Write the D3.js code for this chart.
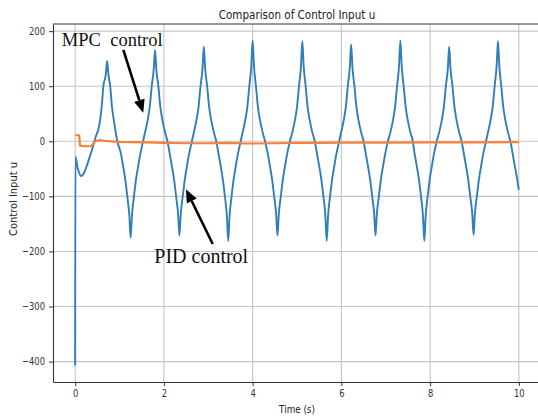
<!DOCTYPE html>
<html><head><meta charset="utf-8">
<script src="https://cdn.jsdelivr.net/npm/d3@7"></script>
<style>html,body{margin:0;padding:0;background:#fff;}svg{display:block;}</style>
</head><body>
<svg id="chart" width="538" height="419"></svg>
<script>
// ---- data ----
const titleText = "Comparison of Control Input u";
const xLabel = "Time (s)";
const yLabel = "Control Input u";
const xTicks = [0, 2, 4, 6, 8, 10];
const yTicks = [-400, -300, -200, -100, 0, 100, 200];
const xDomain = [-0.5, 10.5];
const yDomain = [-437, 213];

// MPC control input (blue), [time, u]
const mpcSeries = [
 [0,-407],[0.005,-28],[0.06,-50],[0.135,-63],[0.2,-57],[0.26,-45],[0.32,-30],[0.37,-18],[0.42,-4],[0.47,10],[0.52,21],[0.565,40],[0.60,65],[0.635,100],[0.69,121],[0.72,146],
 [0.75,121],[0.79,100],[0.83,62],[0.87,39],[0.91,18],[0.95,0],[1.03,-22],[1.08,-45],[1.13,-70],[1.175,-100],[1.22,-134],[1.25,-175],
 [1.28,-134],[1.325,-100],[1.37,-70],[1.42,-45],[1.47,-22],[1.53,0],[1.58,18],[1.635,39],[1.68,62],[1.725,100],[1.77,130],[1.80,166],
 [1.83,130],[1.875,100],[1.92,62],[1.965,39],[2.02,18],[2.08,0],[2.13,-22],[2.18,-45],[2.23,-70],[2.275,-100],[2.32,-132],[2.35,-171],
 [2.38,-132],[2.425,-100],[2.47,-70],[2.52,-45],[2.57,-22],[2.63,0],[2.68,18],[2.735,39],[2.78,62],[2.825,100],[2.87,132],[2.90,172],
 [2.93,132],[2.975,100],[3.02,62],[3.065,39],[3.12,18],[3.18,0],[3.23,-22],[3.28,-45],[3.33,-70],[3.375,-100],[3.42,-136],[3.45,-181],
 [3.48,-136],[3.525,-100],[3.57,-70],[3.62,-45],[3.67,-22],[3.73,0],[3.78,18],[3.835,39],[3.88,62],[3.925,100],[3.97,137],[4.00,183],
 [4.03,137],[4.075,100],[4.12,62],[4.165,39],[4.22,18],[4.28,0],[4.34,-22],[4.39,-45],[4.44,-70],[4.485,-100],[4.53,-132],[4.56,-171],
 [4.59,-132],[4.635,-100],[4.68,-70],[4.73,-45],[4.78,-22],[4.84,0],[4.90,18],[4.955,39],[5.00,62],[5.045,100],[5.09,137],[5.12,182],
 [5.15,137],[5.195,100],[5.24,62],[5.285,39],[5.34,18],[5.40,0],[5.45,-22],[5.50,-45],[5.55,-70],[5.595,-100],[5.64,-136],[5.67,-181],
 [5.70,-136],[5.745,-100],[5.79,-70],[5.84,-45],[5.89,-22],[5.95,0],[6.00,18],[6.055,39],[6.10,62],[6.145,100],[6.19,134],[6.22,176],
 [6.25,134],[6.295,100],[6.34,62],[6.385,39],[6.44,18],[6.50,0],[6.55,-22],[6.60,-45],[6.65,-70],[6.695,-100],[6.74,-132],[6.77,-171],
 [6.80,-132],[6.845,-100],[6.89,-70],[6.94,-45],[6.99,-22],[7.05,0],[7.11,18],[7.165,39],[7.21,62],[7.255,100],[7.30,137],[7.33,183],
 [7.36,137],[7.405,100],[7.45,62],[7.495,39],[7.55,18],[7.61,0],[7.65,-22],[7.70,-45],[7.75,-70],[7.795,-100],[7.84,-136],[7.87,-181],
 [7.90,-136],[7.945,-100],[7.99,-70],[8.04,-45],[8.09,-22],[8.15,0],[8.21,18],[8.265,39],[8.31,62],[8.355,100],[8.40,132],[8.43,172],
 [8.46,132],[8.505,100],[8.55,62],[8.595,39],[8.65,18],[8.71,0],[8.76,-22],[8.81,-45],[8.86,-70],[8.905,-100],[8.95,-131],[8.98,-170],
 [9.01,-131],[9.055,-100],[9.10,-70],[9.15,-45],[9.20,-22],[9.26,0],[9.31,18],[9.365,39],[9.41,62],[9.455,100],[9.50,137],[9.53,182],
 [9.56,137],[9.605,100],[9.65,62],[9.695,39],[9.75,18],[9.81,0],[9.86,-22],[9.91,-45],[9.955,-65],[10.0,-88]
];

// PID control input (orange), [time, u]
const pidSeries = [
 [0,11],[0.09,11],[0.11,-8],[0.2,-9],[0.36,-9],[0.42,-3],[0.47,1],[0.55,2],[0.65,1],[0.8,0],[1.0,-1],[1.3,-1.5],[1.6,-2],[2.0,-3],
 [2.5,-3.5],[3.0,-3.5],[3.5,-3],[3.8,-4],[4.0,-4],[4.5,-3.5],[5.0,-3],[5.5,-3],[6.0,-2.5],[7.0,-2.5],[8.0,-2],[9.0,-2],[10.0,-1.5]
];

// annotations (data coordinates)
const annotLabels = ["MPC  control", "PID control"];
const annotTextPos = [[-0.30, 173.6], [1.783, -221.5]];
const annotArrowFrom = [[1.085, 165.9], [3.10, -186.4]];
const annotArrowTo = [[1.535, 51.9], [2.498, -87.1]];
const annotSizes = [18.5, 20];

// ---- drawing ----
const svg = d3.select("#chart");
const plotL = 53, plotR = 541, plotT = 24, plotB = 382;

const x = d3.scaleLinear().domain(xDomain).range([plotL, plotR]);
const y = d3.scaleLinear().domain(yDomain).range([plotB, plotT]);

const fmt = d => d < 0 ? "\u2212" + Math.abs(d) : String(d);

// grid
const grid = svg.append("g");
grid.selectAll("line.gx").data(xTicks).join("line")
  .attr("x1", d => x(d)).attr("x2", d => x(d)).attr("y1", plotT).attr("y2", plotB)
  .attr("stroke", "#c4c4c4").attr("stroke-width", 1.1);
grid.selectAll("line.gy").data(yTicks).join("line")
  .attr("y1", d => y(d)).attr("y2", d => y(d)).attr("x1", plotL).attr("x2", plotR)
  .attr("stroke", "#c4c4c4").attr("stroke-width", 1.1);

// lines
svg.append("path").datum(mpcSeries)
  .attr("d", d3.line().x(d => x(d[0])).y(d => y(d[1])).curve(d3.curveMonotoneX))
  .attr("fill", "none").attr("stroke", "#2f7fb8").attr("stroke-width", 1.9)
  .attr("stroke-linejoin", "round");
svg.append("path").datum(pidSeries)
  .attr("d", d3.line().x(d => x(d[0])).y(d => y(d[1])))
  .attr("fill", "none").attr("stroke", "#f5813a").attr("stroke-width", 2.2)
  .attr("stroke-linejoin", "round");

// axes
const xAxis = svg.append("g").attr("transform", `translate(0,${plotB})`)
  .call(d3.axisBottom(x).tickValues(xTicks).tickFormat(fmt).tickSize(4).tickPadding(4).tickSizeOuter(0));
const yAxis = svg.append("g").attr("transform", `translate(${plotL},0)`)
  .call(d3.axisLeft(y).tickValues(yTicks).tickFormat(fmt).tickSize(4).tickPadding(6).tickSizeOuter(0));
[xAxis, yAxis].forEach(g => {
  g.select(".domain").attr("stroke", "#333").attr("stroke-width", 1.1);
  g.selectAll(".tick line").attr("stroke", "#333");
  g.selectAll(".tick text").attr("fill", "#333")
    .style("font-family", "'DejaVu Sans', sans-serif").style("font-size", "10.5px")
    .attr("transform", "scale(0.8,1)");
});
// top spine
svg.append("line").attr("x1", plotL).attr("x2", plotR).attr("y1", plotT).attr("y2", plotT)
  .attr("stroke", "#333").attr("stroke-width", 1.1);

// title and labels
svg.append("text").attr("transform", `translate(${(plotL + plotR) / 2},19) scale(0.8,1)`)
  .attr("text-anchor", "middle").style("font-family", "'DejaVu Sans', sans-serif")
  .style("font-size", "13px").attr("fill", "#222").text(titleText);
svg.append("text").attr("transform", `translate(${(plotL + plotR) / 2},413) scale(0.8,1)`)
  .attr("text-anchor", "middle").style("font-family", "'DejaVu Sans', sans-serif")
  .style("font-size", "11px").attr("fill", "#222").text(xLabel);
svg.append("text").attr("transform", `translate(16.5,199) rotate(-90) scale(0.9,1)`)
  .attr("text-anchor", "middle").style("font-family", "'DejaVu Sans', sans-serif")
  .style("font-size", "11px").attr("fill", "#222").text(yLabel);

// annotations
const ann = svg.append("g");
annotLabels.forEach((lab, i) => {
  ann.append("text").attr("x", x(annotTextPos[i][0])).attr("y", y(annotTextPos[i][1]))
    .attr("xml:space", "preserve").style("white-space", "pre")
    .style("font-family", "'Liberation Serif', 'Times New Roman', serif")
    .style("font-size", annotSizes[i] + "px").attr("fill", "#111").text(lab);
  const x1 = x(annotArrowFrom[i][0]), y1 = y(annotArrowFrom[i][1]);
  const x2 = x(annotArrowTo[i][0]), y2 = y(annotArrowTo[i][1]);
  const ang = Math.atan2(y2 - y1, x2 - x1);
  const hl = 13, hw = 5.5;
  const bx = x2 - hl * Math.cos(ang), by = y2 - hl * Math.sin(ang);
  ann.append("line").attr("x1", x1).attr("y1", y1).attr("x2", bx).attr("y2", by)
    .attr("stroke", "#000").attr("stroke-width", 2.6);
  const px = -Math.sin(ang), py = Math.cos(ang);
  ann.append("path")
    .attr("d", `M${x2},${y2}L${bx + hw * px},${by + hw * py}L${bx - hw * px},${by - hw * py}Z`)
    .attr("fill", "#000");
});
</script>
</body></html>
